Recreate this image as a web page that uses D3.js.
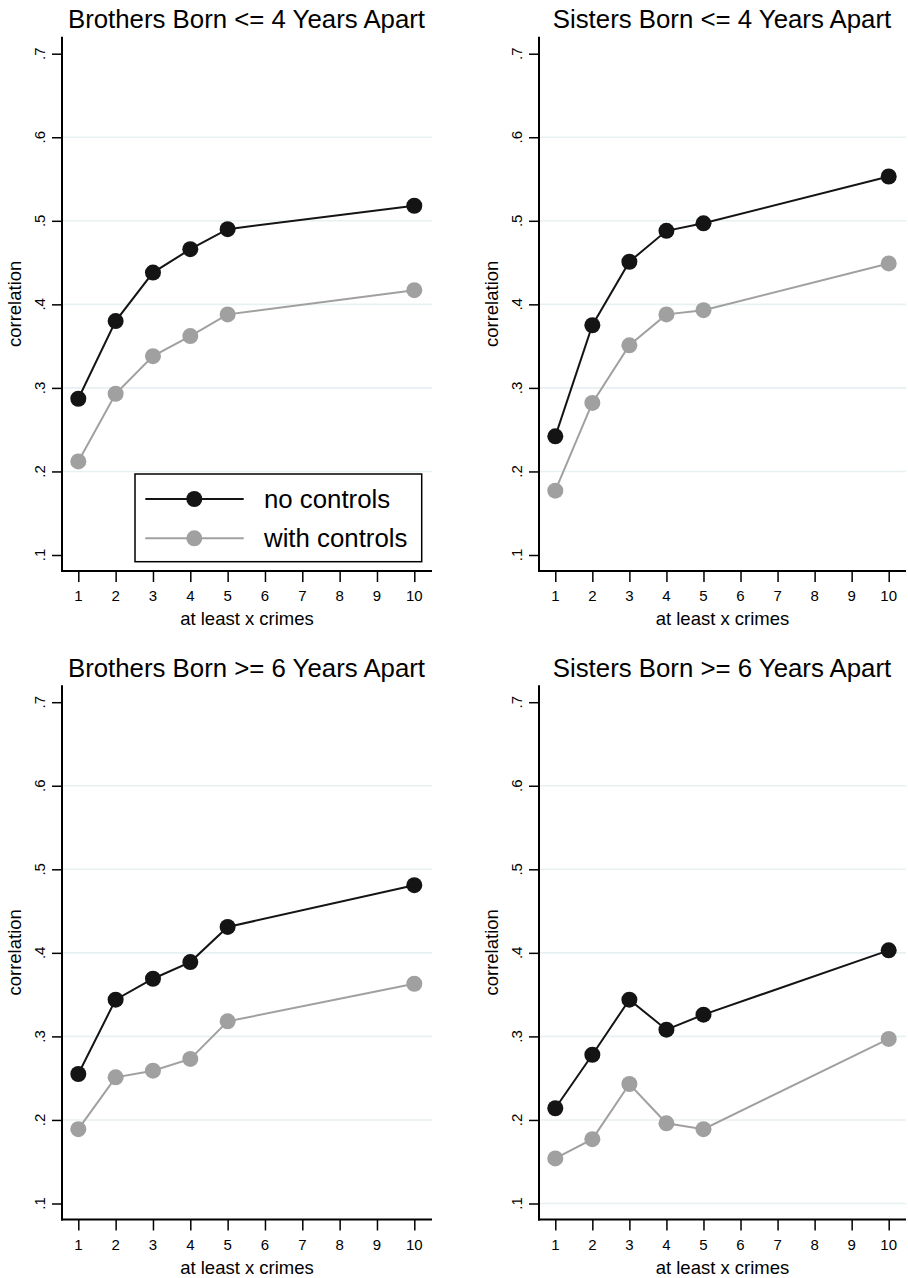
<!DOCTYPE html>
<html>
<head>
<meta charset="utf-8">
<script src="https://cdn.jsdelivr.net/npm/d3@7/dist/d3.min.js"></script>
<style>
  html, body { margin: 0; padding: 0; background: #fff; }
  text { font-family: "Liberation Sans", Arial, Helvetica, sans-serif; fill: #000; }
</style>
</head>
<body>
<svg id="chart" width="908" height="1278"></svg>
<script>
// ---------- data ----------
const crimes = [1, 2, 3, 4, 5, 10];
const xTicks = [1, 2, 3, 4, 5, 6, 7, 8, 9, 10];
const yTicks = [0.1, 0.2, 0.3, 0.4, 0.5, 0.6, 0.7];
const yTickLabels = [".1", ".2", ".3", ".4", ".5", ".6", ".7"];
const panelTitles = [
  "Brothers Born <= 4 Years Apart",
  "Sisters Born <= 4 Years Apart",
  "Brothers Born >= 6 Years Apart",
  "Sisters Born >= 6 Years Apart"
];
const seriesNames = ["no controls", "with controls"];
const brothersClose_noControls   = [0.287, 0.380, 0.438, 0.466, 0.490, 0.518];
const brothersClose_withControls = [0.212, 0.293, 0.338, 0.362, 0.388, 0.417];
const sistersClose_noControls    = [0.242, 0.375, 0.451, 0.488, 0.497, 0.553];
const sistersClose_withControls  = [0.177, 0.282, 0.351, 0.388, 0.393, 0.449];
const brothersFar_noControls     = [0.255, 0.344, 0.369, 0.389, 0.431, 0.481];
const brothersFar_withControls   = [0.189, 0.251, 0.259, 0.273, 0.318, 0.363];
const sistersFar_noControls      = [0.214, 0.278, 0.344, 0.308, 0.326, 0.403];
const sistersFar_withControls    = [0.154, 0.177, 0.243, 0.196, 0.189, 0.297];
const xTitle = "at least x crimes";
const yTitle = "correlation";

// ---------- styling / layout ----------
const colors = ["#141414", "#a0a0a0"];
const gridColor = "#e8f1f2";
const panelData = [
  [brothersClose_noControls, brothersClose_withControls],
  [sistersClose_noControls, sistersClose_withControls],
  [brothersFar_noControls, brothersFar_withControls],
  [sistersFar_noControls, sistersFar_withControls]
];
// gridlines drawn at these values per panel
const gridValues = [
  [0.2, 0.3, 0.4, 0.5, 0.6],
  [0.2, 0.3, 0.4, 0.5, 0.6],
  [0.2, 0.3, 0.4, 0.5, 0.6],
  [0.1, 0.2, 0.3, 0.4, 0.5, 0.6]
];
const panels = [
  {axisX: 62,  right: 432, x1: 78.3,  x10: 414.3, dy: 0},
  {axisX: 539, right: 906, x1: 555.3, x10: 888.7, dy: 0},
  {axisX: 62,  right: 432, x1: 78.3,  x10: 414.3, dy: 648.5},
  {axisX: 539, right: 906, x1: 555.3, x10: 888.7, dy: 648.5}
];
const yTop = 53.7, yBot = 555.0, axisTop = 36.7, axisY = 571;

const svg = d3.select("#chart");

panels.forEach((p, i) => {
  const g = svg.append("g").attr("transform", `translate(0,${p.dy})`);
  const x = d3.scaleLinear().domain([1, 10]).range([p.x1, p.x10]);
  const y = d3.scaleLinear().domain([0.1, 0.7]).range([yBot, yTop]);

  // gridlines
  g.selectAll("line.grid").data(gridValues[i]).enter().append("line")
    .attr("x1", p.axisX + 1).attr("x2", p.right)
    .attr("y1", d => y(d)).attr("y2", d => y(d))
    .attr("stroke", gridColor).attr("stroke-width", 1.6);

  // y axis
  const yAxis = d3.axisLeft(y).tickValues(yTicks).tickSize(10).tickFormat("");
  const ya = g.append("g").attr("transform", `translate(${p.axisX},0)`).call(yAxis);
  ya.select(".domain").remove();
  ya.selectAll(".tick line").attr("stroke", "#000").attr("stroke-width", 1.5);
  g.append("line").attr("x1", p.axisX).attr("x2", p.axisX)
    .attr("y1", axisTop).attr("y2", axisY + 1)
    .attr("stroke", "#000").attr("stroke-width", 2);
  g.selectAll("text.ytl").data(yTicks).enter().append("text")
    .attr("transform", (d) => `translate(${p.axisX - 17.3},${y(d)}) rotate(-90)`)
    .attr("text-anchor", "middle").attr("font-size", 15)
    .text((d, k) => yTickLabels[k]);

  // x axis
  const xAxis = d3.axisBottom(x).tickValues(xTicks).tickSize(11).tickFormat("");
  const xa = g.append("g").attr("transform", `translate(0,${axisY})`).call(xAxis);
  xa.select(".domain").remove();
  xa.selectAll(".tick line").attr("stroke", "#000").attr("stroke-width", 1.5);
  g.append("line").attr("x1", p.axisX - 1).attr("x2", p.right)
    .attr("y1", axisY).attr("y2", axisY)
    .attr("stroke", "#000").attr("stroke-width", 2);
  g.selectAll("text.xtl").data(xTicks).enter().append("text")
    .attr("x", d => x(d)).attr("y", axisY + 30)
    .attr("text-anchor", "middle").attr("font-size", 15)
    .text(d => d);

  // axis titles
  g.append("text").attr("x", (p.axisX + p.right) / 2).attr("y", axisY + 54)
    .attr("text-anchor", "middle").attr("font-size", 18.5).text(xTitle);
  g.append("text")
    .attr("transform", `translate(${p.axisX - 41},${(axisTop + axisY) / 2}) rotate(-90)`)
    .attr("text-anchor", "middle").attr("font-size", 18.5).text(yTitle);

  // panel title
  g.append("text").attr("x", (p.axisX + p.right) / 2 - 0.5).attr("y", 28.3)
    .attr("text-anchor", "middle").attr("font-size", 25.8).text(panelTitles[i]);

  // series: draw with-controls first so black is on top
  [1, 0].forEach(s => {
    const vals = panelData[i][s];
    const pts = crimes.map((c, k) => [c, vals[k]]);
    const line = d3.line().x(d => x(d[0])).y(d => y(d[1]));
    g.append("path").datum(pts).attr("d", line)
      .attr("fill", "none").attr("stroke", colors[s]).attr("stroke-width", 2);
    g.selectAll(null).data(pts).enter().append("circle")
      .attr("cx", d => x(d[0])).attr("cy", d => y(d[1])).attr("r", 8)
      .attr("fill", colors[s]);
  });

  // legend in first panel
  if (i === 0) {
    const lg = g.append("g");
    lg.append("rect").attr("x", 135).attr("y", 474).attr("width", 286.7).attr("height", 87.7)
      .attr("fill", "#fff").attr("stroke", "#000").attr("stroke-width", 1.5);
    seriesNames.forEach((name, s) => {
      const ly = 499 + s * 39.3;
      lg.append("line").attr("x1", 145.3).attr("x2", 243.7).attr("y1", ly).attr("y2", ly)
        .attr("stroke", colors[s]).attr("stroke-width", 2);
      lg.append("circle").attr("cx", 194.3).attr("cy", ly).attr("r", 8).attr("fill", colors[s]);
      lg.append("text").attr("x", 264).attr("y", ly + 9).attr("font-size", 25.8).text(name);
    });
  }
});
</script>
</body>
</html>
